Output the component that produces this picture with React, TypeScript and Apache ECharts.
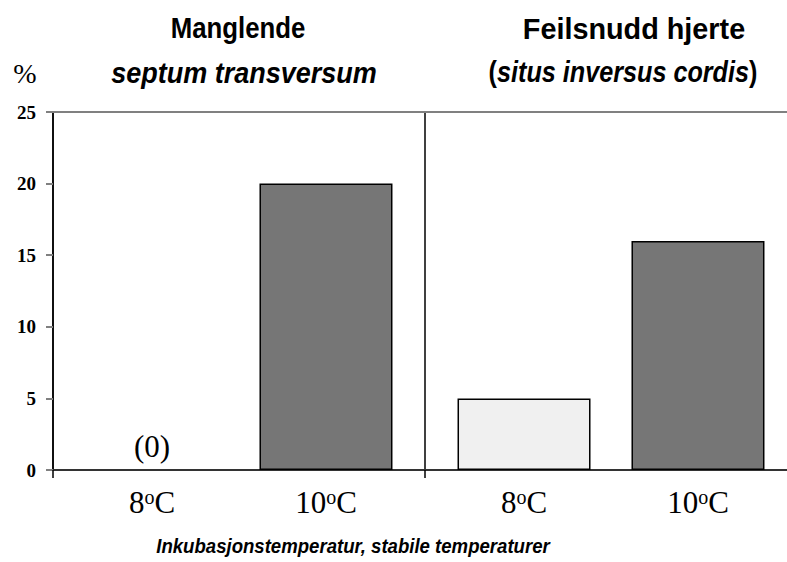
import React, { useEffect, useRef } from 'react';
import * as echarts from 'echarts';

const yMin = 0;
const yMax = 25;
const yStep = 5;
const groups = ['Manglende septum transversum', 'Feilsnudd hjerte (situs inversus cordis)'];
const temperatures = ['8', '10'];
const values8 = [0, 5];
const values10 = [20, 16];
const tempColors = ['#f0f0f0', '#767676'];
const leftTitle = ['Manglende', 'septum transversum'];
const rightTitle = ['Feilsnudd hjerte', 'situs inversus cordis'];
const yUnit = '%';
const xName = 'Inkubasjonstemperatur, stabile temperaturer';
const zeroLabel = '(0)';

const SERIF = '"Liberation Serif", "Times New Roman", serif';
const SANS = '"Liberation Sans", Arial, sans-serif';

function barSeries(tempIndex: number, values: number[]) {
  return {
    type: 'bar',
    name: temperatures[tempIndex],
    xAxisIndex: 0,
    yAxisIndex: 0,
    barWidth: 133,
    barGap: '30.8%',
    itemStyle: { color: tempColors[tempIndex], borderColor: '#000', borderWidth: 1.5 },
    data: values.map((v) => ({ value: v, itemStyle: v === 0 ? { borderWidth: 0 } : undefined })),
    label: {
      show: true,
      position: 'bottom',
      distance: 17,
      formatter: (p: any) => `{n|${p.seriesName}}{s|o}{n|C}`,
      rich: {
        n: { fontFamily: SERIF, fontSize: 31, color: '#000' },
        s: { fontFamily: SERIF, fontSize: 20, color: '#000', verticalAlign: 'top' },
      },
    },
    markPoint: {
      symbol: 'rect',
      symbolSize: 0,
      silent: true,
      label: {
        show: true,
        position: 'top',
        distance: 8,
        formatter: () => zeroLabel,
        fontFamily: SERIF,
        fontSize: 31,
        color: '#000',
      },
      data: values
        .map((v, i) => (v === 0 ? { coord: [i, v], value: v } : null))
        .filter((d) => d !== null),
    },
  };
}

export default function App() {
  const ref = useRef<HTMLDivElement>(null);
  useEffect(() => {
    document.body.style.margin = '0';
    const chart = echarts.init(ref.current!, null, { renderer: 'svg' });
    chart.setOption({
      animation: false,
      backgroundColor: '#fff',
      grid: { left: 53, top: 112, right: -10, bottom: 92, outerBoundsMode: 'none', containLabel: false },
      xAxis: [
        {
          type: 'category',
          data: groups,
          position: 'bottom',
          axisLine: { onZero: false, lineStyle: { color: '#333', width: 2 } },
          axisTick: { show: true, length: 8, lineStyle: { color: '#000', width: 1.5 } },
          axisLabel: { show: false },
          splitLine: { show: true, lineStyle: { color: '#000', width: 1.5 } },
        },
        {
          type: 'category',
          data: groups,
          position: 'top',
          axisLine: { onZero: false, lineStyle: { color: '#808080', width: 2 } },
          axisTick: { show: false },
          axisLabel: { show: false },
          splitLine: { show: false },
        },
      ],
      yAxis: {
        type: 'value',
        min: yMin,
        max: yMax,
        interval: yStep,
        axisLine: { show: true, lineStyle: { color: '#000', width: 1.5 } },
        axisTick: { show: true, length: 7, lineStyle: { color: '#808080', width: 2 } },
        axisLabel: { fontFamily: SERIF, fontWeight: 'bold', fontSize: 19, color: '#000', margin: 17 },
        splitLine: { show: false },
      },
      series: [barSeries(0, values8), barSeries(1, values10)],
      graphic: [
        {
          type: 'text',
          x: 238,
          y: 28,
          scaleX: 0.86,
          style: { text: leftTitle[0], align: 'center', verticalAlign: 'middle', font: `bold 30px ${SANS}`, fill: '#000' },
        },
        {
          type: 'text',
          x: 244,
          y: 72,
          scaleX: 0.9,
          style: { text: leftTitle[1], align: 'center', verticalAlign: 'middle', font: `italic bold 30px ${SANS}`, fill: '#000' },
        },
        {
          type: 'text',
          x: 634,
          y: 28,
          scaleX: 0.96,
          style: { text: rightTitle[0], align: 'center', verticalAlign: 'middle', font: `bold 30px ${SANS}`, fill: '#000' },
        },
        {
          type: 'text',
          x: 623,
          y: 72,
          scaleX: 0.84,
          style: {
            text: `{p|(}{i|${rightTitle[1]}}{p|)}`,
            align: 'center',
            verticalAlign: 'middle',
            rich: {
              p: { fontFamily: SANS, fontWeight: 'bold', fontSize: 30, color: '#000' },
              i: { fontFamily: SANS, fontWeight: 'bold', fontStyle: 'italic', fontSize: 30, color: '#000' },
            },
          },
        },
        {
          type: 'text',
          x: 25,
          y: 73,
          style: { text: yUnit, align: 'center', verticalAlign: 'middle', font: `28px ${SERIF}`, fill: '#000' },
        },
        {
          type: 'text',
          x: 353,
          y: 546,
          scaleX: 0.93,
          style: { text: xName, align: 'center', verticalAlign: 'middle', font: `italic bold 20px ${SANS}`, fill: '#000' },
        },
      ],
    });
    return () => chart.dispose();
  }, []);
  return <div ref={ref} style={{ width: 787, height: 562 }} />;
}
